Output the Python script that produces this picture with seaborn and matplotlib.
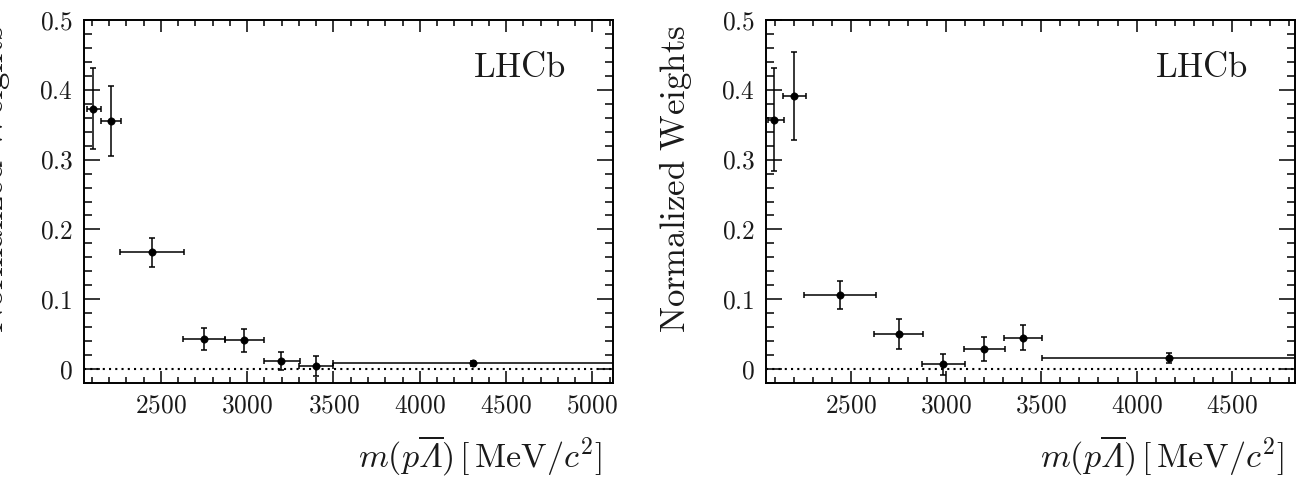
import numpy as np
import pandas as pd
import matplotlib
matplotlib.use("Agg")
import matplotlib.pyplot as plt
import seaborn as sns
from matplotlib.ticker import MultipleLocator, FuncFormatter

# ---- data ----
left_mass = [2105, 2208, 2446, 2750, 2984, 3196, 3400, 4309]
left_low = [2070, 2150, 2260, 2630, 2873, 3096, 3303, 3497]
left_high = [2150, 2268, 2631, 2873, 3096, 3305, 3498, 5140]
left_weight = [0.373, 0.355, 0.167, 0.043, 0.041, 0.012, 0.004, 0.008]
left_err = [0.058, 0.050, 0.021, 0.016, 0.016, 0.013, 0.014, 0.004]

right_mass = [2098, 2201, 2442, 2750, 2984, 3200, 3404, 4169]
right_low = [2066, 2142, 2255, 2622, 2871, 3094, 3303, 3501]
right_high = [2150, 2262, 2631, 2876, 3100, 3308, 3504, 4840]
right_weight = [0.357, 0.391, 0.106, 0.050, 0.007, 0.029, 0.045, 0.016]
right_err = [0.074, 0.063, 0.020, 0.021, 0.015, 0.017, 0.018, 0.007]

left_xlim = (2054, 5120)
right_xlim = (2054, 4832)
y_ticks = [0, 0.1, 0.2, 0.3, 0.4, 0.5]
x_ticks_left = [2500, 3000, 3500, 4000, 4500, 5000]
x_ticks_right = [2500, 3000, 3500, 4000, 4500]

# italic capital Lambda: glyph slot 0xA4 of the Computer Modern math-italic font
LAM = "\u00a4"
xlabel = r"$m(p\overline{\mathsf{" + LAM + r"}})\,[\,\mathrm{MeV}/c^2]$"
ylabel = r"$\mathrm{Normalized\ Weights}$"
tag = r"$\mathrm{LHCb}$"

sns.set_theme(style="ticks")
plt.rcParams["mathtext.fontset"] = "cm"
plt.rcParams["mathtext.rm"] = "cmr10"
plt.rcParams["mathtext.it"] = "cmmi10"
plt.rcParams["mathtext.sf"] = "cmmi10"
plt.rcParams["mathtext.bf"] = "cmb10"
plt.rcParams["font.family"] = ["DejaVu Serif"]

fig = plt.figure(figsize=(13.05, 4.78), dpi=100)
W, H = 1305.0, 478.0
ax_l = fig.add_axes([84 / W, 1 - 383 / H, 529 / W, 363 / H])
ax_r = fig.add_axes([766 / W, 1 - 383 / H, 529 / W, 363 / H])

fmt = FuncFormatter(lambda v, p: f"${v:g}$")
TXT = "#1a1a1a"


def draw(ax, mass, low, high, weight, err, xlim, xticks):
    df = pd.DataFrame({"mass": mass, "weight": weight})
    m = np.array(mass, float)
    xerr = np.vstack([m - np.array(low, float), np.array(high, float) - m])
    ax.axhline(0, color="black", ls=(0, (1, 2)), lw=1.5, zorder=1)
    ax.errorbar(m, weight, xerr=xerr, yerr=err, fmt="none", ecolor="black",
                elinewidth=1.1, capsize=2, capthick=1.1, zorder=2)
    sns.scatterplot(data=df, x="mass", y="weight", ax=ax, color="black",
                    edgecolor="black", s=28, zorder=3, legend=False)
    ax.set_xlim(*xlim)
    ax.set_ylim(-0.02, 0.5)
    ax.set_xticks(xticks)
    ax.set_yticks(y_ticks)
    ax.xaxis.set_minor_locator(MultipleLocator(100))
    ax.yaxis.set_minor_locator(MultipleLocator(0.02))
    ax.xaxis.set_major_formatter(fmt)
    ax.yaxis.set_major_formatter(fmt)
    ax.tick_params(which="both", direction="in", top=True, right=True,
                   width=1.1, color="black", labelsize=18.3, labelcolor=TXT)
    ax.tick_params(axis="x", which="major", length=8.3, pad=8.5)
    ax.tick_params(axis="x", which="minor", length=4.0)
    ax.tick_params(axis="y", which="major", length=11.5, pad=8)
    ax.tick_params(axis="y", which="minor", length=6.0)
    for s in ax.spines.values():
        s.set_linewidth(1.4)
        s.set_color("black")
    ax.set_xlabel(xlabel, fontsize=24.5, loc="right", color=TXT,
                  math_fontfamily="custom")
    ax.xaxis.set_label_coords(0.978, -0.14)
    ax.set_ylabel(ylabel, fontsize=25, loc="top", color=TXT)
    ax.yaxis.set_label_coords(-0.136, 0.986)
    ax.text(0.911, 0.844, tag, transform=ax.transAxes, ha="right",
            va="baseline", fontsize=25, color=TXT)


draw(ax_l, left_mass, left_low, left_high, left_weight, left_err,
     left_xlim, x_ticks_left)
draw(ax_r, right_mass, right_low, right_high, right_weight, right_err,
     right_xlim, x_ticks_right)

fig.savefig("out.png", dpi=100)
